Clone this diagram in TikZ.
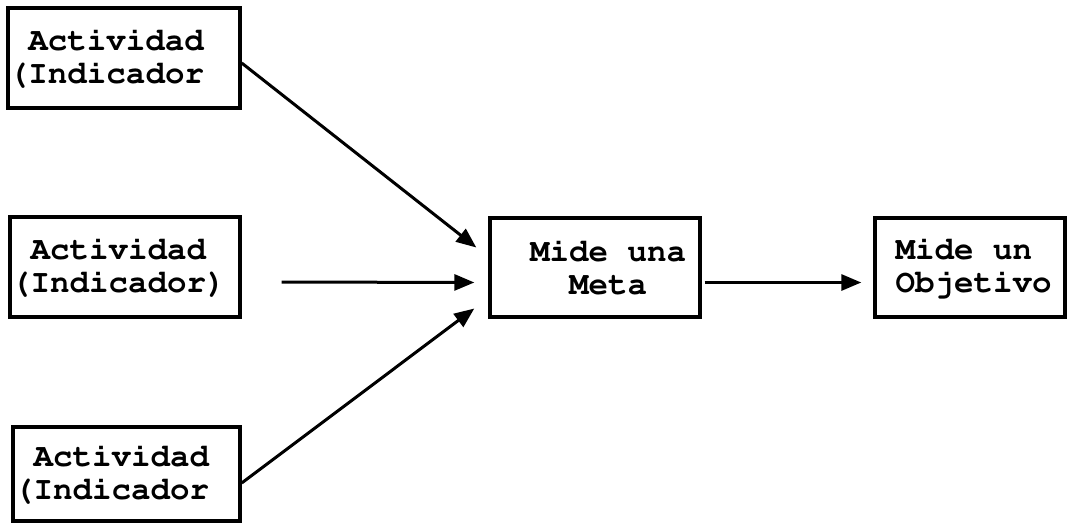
\documentclass[tikz,border=0pt]{standalone}
\usepackage[T1]{fontenc}
\usetikzlibrary{arrows.meta,calc}
\newcommand{\typewriter}{\fontencoding{T1}\fontfamily{pcr}\fontseries{b}\selectfont}
% one monospaced character cell
\newcommand{\cell}{\hphantom{a}}
\begin{document}
\begin{tikzpicture}[x=1pt,y=-1pt,
  boxstyle/.style={draw, line width=3.4pt, inner xsep=1pt, inner ysep=0pt,
    align=left, font=\typewriter\fontsize{32.5}{33}\selectfont},
  link/.style={line width=3pt, -{Triangle[length=20pt,width=16pt]}}]
\useasboundingbox (0,0) rectangle (1070,524);

% activity boxes on the left
\node[boxstyle, text width=230pt, minimum height=100pt] (a1) at (124,58)
  {\cell Actividad\\(Indicador};
\node[boxstyle, text width=228pt, minimum height=100pt] (a2) at (125,267)
  {\cell Actividad\\(Indicador)};
\node[boxstyle, text width=225pt, minimum height=94pt] (a3) at (126.5,474)
  {\cell Actividad\\(Indicador};

% goal and objective
\node[boxstyle, text width=208pt, minimum height=99pt] (meta) at (595,267.5)
  {\cell\cell Mide\cell una\\\cell\cell\cell\cell Meta};
\node[boxstyle, text width=188pt, minimum height=99pt] (obj) at (970,267.5)
  {\cell Mide\cell un\\\cell Objetivo};

% connectors
\draw[link] ($(a1.east)+(0,5)$) -- ($(meta.west)+(-12,-20)$);
\draw[link] ($(a2.east)+(40,15)$) -- ($(meta.west)+(-14,15)$);
\draw[link] ($(a3.east)+(0,9)$) -- ($(meta.west)+(-14,41)$);
\draw[link] ($(meta.east)+(3,15)$) -- ($(obj.west)+(-12,15)$);
\end{tikzpicture}
\end{document}
